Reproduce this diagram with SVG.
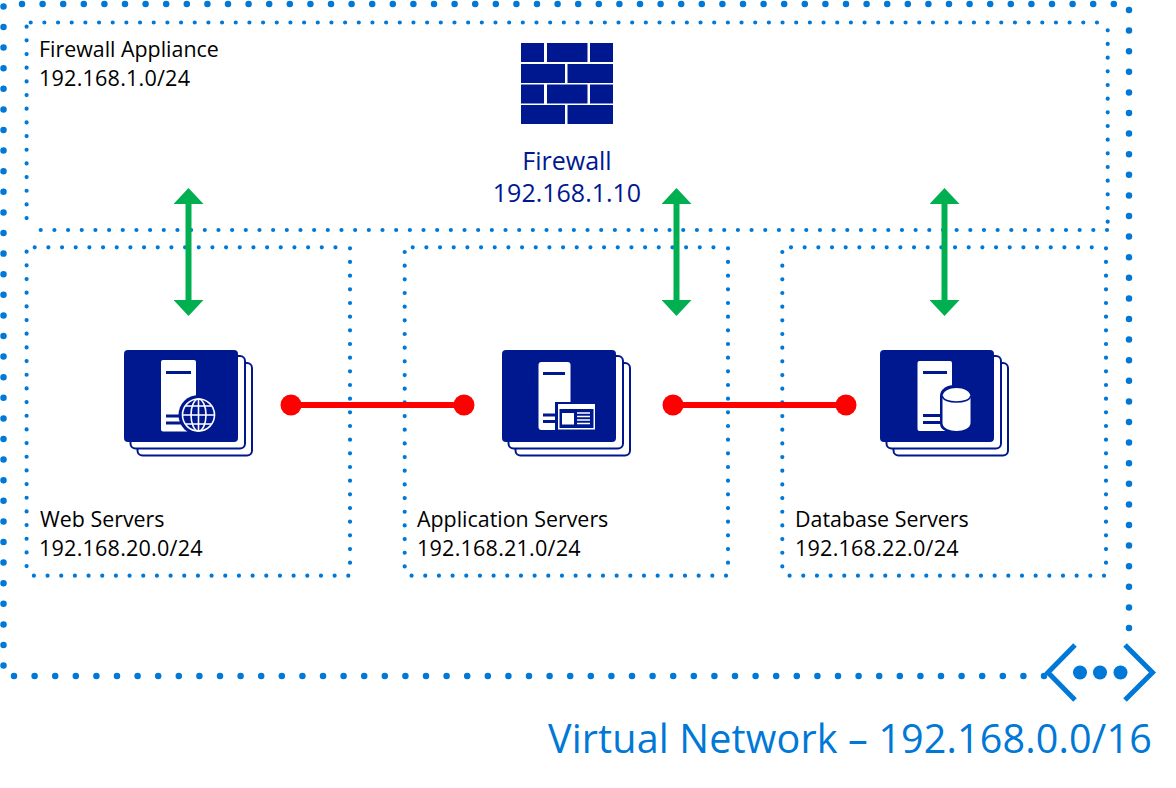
<svg xmlns="http://www.w3.org/2000/svg" width="1176" height="788" viewBox="0 0 1176 788">
<style>
text{font-family:"Open Sans","Noto Sans","DejaVu Sans",sans-serif}
.lbl{font-size:21.4px;fill:#000}
.num{font-size:21.6px;letter-spacing:.2px;fill:#000}
.fw{font-size:25px;fill:#00188f}
.vn{font-size:39.500px;letter-spacing:.15px;fill:#0078d7}
.outer{fill:none;stroke:#0078d7;stroke-width:6.500;stroke-linecap:round;stroke-dasharray:0 20.6}
.sub{fill:none;stroke:#0078d7;stroke-width:4.200;stroke-linecap:round;stroke-dasharray:0 13.67}
.dark{fill:#00188f}
.back{fill:#fff;stroke:#00188f;stroke-width:2}
.w{fill:#fff}
.line{fill:none;stroke:#00188f;stroke-width:3}
.wl{fill:none;stroke:#fff;stroke-width:1.600}
.green{fill:none;stroke:#00b050;stroke-width:6;marker-start:url(#g);marker-end:url(#g)}
.red{stroke:#f00;stroke-width:6}
.dot{fill:#f00}
.vnline{fill:none;stroke:#0078d7;stroke-width:5}
</style>
<defs>
<marker id="g" viewBox="0 0 16 30" refX="1" refY="15" markerUnits="userSpaceOnUse" markerWidth="16" markerHeight="30" orient="auto-start-reverse"><path d="M16 15 0 0V30Z" fill="#00b050"/></marker>
<g id="stack">
<rect class="back" x="137.500" y="363" width="114.500" height="92.500" rx="5"/>
<rect class="back" x="130.500" y="356" width="114.500" height="92.500" rx="5"/>
<rect class="dark" x="124" y="350" width="114" height="92" rx="4"/>
</g>
</defs>
<g id="virtual-network">
<path class="outer" d="M22 4H1125M1129 10V632M1044 676H10M3.500 665.600V4"/>
<g id="vnet-icon">
<path class="vnline" d="M1075 645 1048 672.500 1075 700M1125 645 1152.500 672.500 1125 700"/>
<circle cx="1080" cy="672.500" r="7" fill="#0078d7"/><circle cx="1100" cy="672.500" r="7" fill="#0078d7"/><circle cx="1120.500" cy="672.500" r="7" fill="#0078d7"/>
</g>
<text class="vn" x="548" y="753">Virtual Network – 192.168.0.0/16</text>
</g>
<g id="firewall-appliance">
<path class="sub" d="M30.700 22.500H1105M1107.700 30.300V226M1107 230H29.300M26.600 26.700V222"/>
<text class="lbl" x="39" y="57">Firewall Appliance</text>
<text class="num" x="39" y="86">192.168.1.0/24</text>
</g>
<g id="firewall">
<g class="dark">
<rect x="521" y="43" width="23" height="19"/><rect x="547" y="43" width="40.500" height="19"/><rect x="590" y="43" width="23" height="19"/>
<rect x="521" y="64" width="44" height="19"/><rect x="567.500" y="64" width="45.500" height="19"/>
<rect x="521" y="84.500" width="23" height="19"/><rect x="547" y="84.500" width="40.500" height="19"/><rect x="590" y="84.500" width="23" height="19"/>
<rect x="521" y="105" width="44" height="19"/><rect x="567.500" y="105" width="45.500" height="19"/>
</g>
<text class="fw" x="567" y="170" text-anchor="middle">Firewall</text>
<text class="fw" x="567" y="202" text-anchor="middle">192.168.1.10</text>
</g>
<g id="web-servers">
<path class="sub" d="M34.700 247.300H340M350 248.300V566M348.300 575.700H30M26.600 251.700V572"/>
<use href="#stack"/>
<rect class="w" x="161" y="360" width="35" height="71.500" rx="2"/>
<path class="line" d="M166 372.500H191M166 416H182M166 423H182"/>
<circle class="dark" cx="198.500" cy="415" r="20"/>
<g class="wl"><circle cx="198.500" cy="415" r="16"/><ellipse cx="198.500" cy="415" rx="7.500" ry="16"/><path d="M198.500 399V431M183 415H214M186 406H211M186 424H211"/></g>
<text class="lbl" x="40" y="527">Web Servers</text>
<text class="num" x="39" y="556">192.168.20.0/24</text>
</g>
<g id="application-servers">
<path class="sub" d="M412.700 247.300H718M728 248.300V566M726 575.700H408M404.700 252V572"/>
<use href="#stack" x="378"/>
<rect class="w" x="538.500" y="362" width="32" height="68" rx="3"/>
<path class="line" d="M543 373.500H565M543 415H556M543 421.500H556"/>
<rect class="dark" x="555" y="402" width="42" height="29"/>
<rect class="w" x="558" y="404" width="37" height="25.500"/>
<rect class="dark" x="559.500" y="409" width="34" height="19"/>
<rect class="w" x="562" y="413" width="12" height="11.500"/>
<path d="M577 413H590M577 416.500H590M577 420H590M577 423.500H590" fill="none" stroke="#fff" stroke-width="1.300"/>
<text class="lbl" x="417" y="527">Application Servers</text>
<text class="num" x="417" y="556">192.168.21.0/24</text>
</g>
<g id="database-servers">
<path class="sub" d="M791 247.300H1096M1106 248.300V566M1104 575.700H786M782.300 252V572"/>
<use href="#stack" x="756"/>
<rect class="w" x="917.500" y="361" width="34.500" height="70" rx="2"/>
<path class="line" d="M923 372.500H947M923 415.500H941M923 422.500H941"/>
<path class="dark" d="M940 396C940 381 972 381 972 396V424C972 436 940 436 940 424Z"/>
<path class="w" d="M942.500 397C942.500 385 970.500 385 970.500 397V423C970.500 433.500 942.500 433.500 942.500 423Z"/>
<path d="M942.500 396C942.500 404 970.500 404 970.500 396" fill="none" stroke="#00188f" stroke-width="1.500"/>
<text class="lbl" x="795" y="527">Database Servers</text>
<text class="num" x="795" y="556">192.168.22.0/24</text>
</g>
<g id="connectors">
<path class="green" d="M188.500 203V301"/>
<path class="green" d="M676.500 203V301"/>
<path class="green" d="M944.500 203V301"/>
<g id="red-1"><path class="red" d="M291 405H464"/><circle class="dot" cx="291" cy="405" r="10.500"/><circle class="dot" cx="464" cy="405" r="10.500"/></g>
<g id="red-2"><path class="red" d="M673 405H846"/><circle class="dot" cx="673" cy="405" r="10.500"/><circle class="dot" cx="846" cy="405" r="10.500"/></g>
</g>
</svg>
